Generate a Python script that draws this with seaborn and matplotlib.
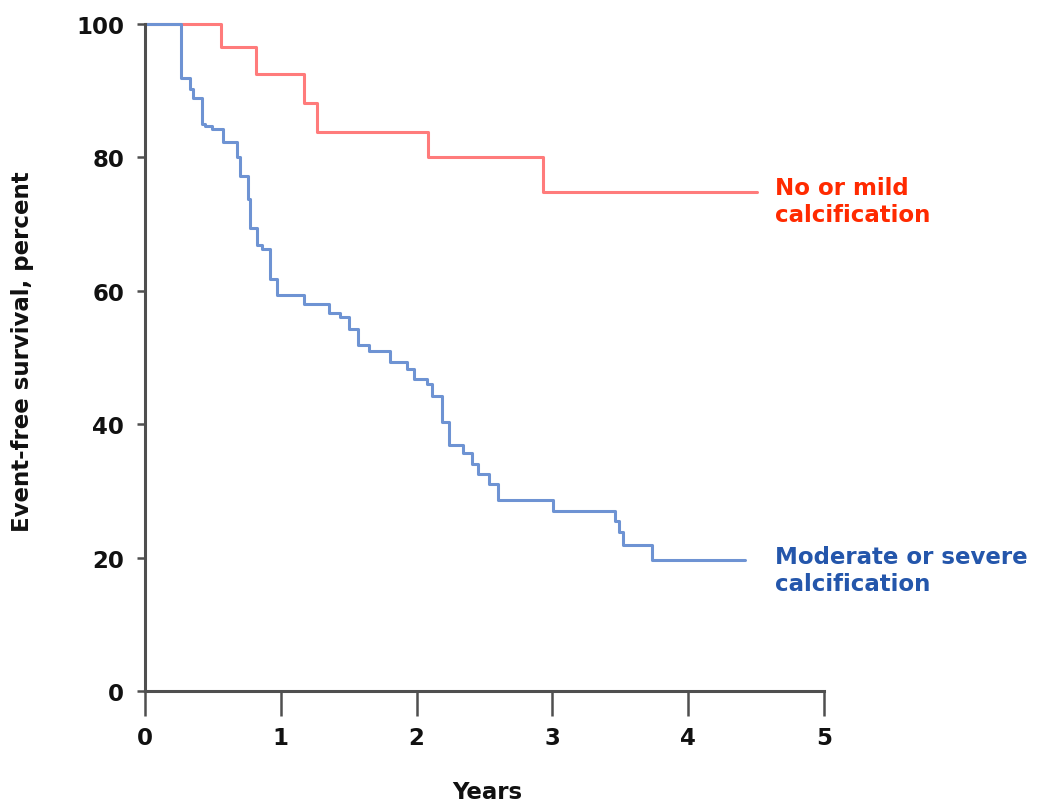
import pandas as pd
import matplotlib
matplotlib.use("Agg")
import matplotlib.pyplot as plt
import seaborn as sns

# Step points (time in years, survival after the step in %)
mild_years = [0, 0.56, 0.817, 1.171, 1.264, 2.087, 2.93, 4.51]
mild_surv = [100, 96.6, 92.5, 88.1, 83.8, 80.0, 74.8, 74.8]

severe_years = [0, 0.263, 0.331, 0.351, 0.422, 0.44, 0.491, 0.577, 0.675, 0.70,
                0.756, 0.773, 0.827, 0.859, 0.92, 0.97, 1.171, 1.357, 1.436, 1.505,
                1.571, 1.652, 1.804, 1.932, 1.981, 2.074, 2.111, 2.185, 2.239, 2.339,
                2.41, 2.455, 2.535, 2.60, 3.007, 3.46, 3.49, 3.52, 3.73, 4.418]
severe_surv = [100, 91.9, 90.2, 88.9, 85.0, 84.7, 84.2, 82.3, 80.0, 77.2,
               73.8, 69.4, 66.9, 66.2, 61.8, 59.4, 58.0, 56.7, 56.1, 54.2,
               51.9, 51.0, 49.3, 48.3, 46.8, 46.0, 44.2, 40.3, 36.9, 35.7,
               34.0, 32.5, 31.0, 28.6, 27.0, 25.5, 23.8, 21.9, 19.7, 19.7]

x_ticks = [0, 1, 2, 3, 4, 5]
y_ticks = [0, 20, 40, 60, 80, 100]

RED = "#ff7b7b"
BLUE = "#6e93d3"
RED_TXT = "#ff2a00"
BLUE_TXT = "#2456ab"
AXIS = "#4f4f4f"
FS = 16.5

sns.set_style("white")
plt.rcParams["font.family"] = ["DejaVu Sans"]
plt.rcParams["font.weight"] = "bold"

df = pd.concat([
    pd.DataFrame({"years": mild_years, "surv": mild_surv, "group": "mild"}),
    pd.DataFrame({"years": severe_years, "surv": severe_surv, "group": "severe"}),
])

fig = plt.figure(figsize=(10.47, 8.04), dpi=100)
ax = fig.add_axes([145 / 1047, 112 / 804, 679 / 1047, 667 / 804])

sns.lineplot(data=df, x="years", y="surv", hue="group", hue_order=["mild", "severe"],
             palette={"mild": RED, "severe": BLUE}, estimator=None, sort=False,
             drawstyle="steps-post", linewidth=2.2, legend=False, ax=ax, clip_on=False)

ax.set_xlim(0, 5)
ax.set_ylim(0, 100)
ax.set_xticks(x_ticks)
ax.set_yticks(y_ticks)
ax.tick_params(axis="x", direction="out", length=18, width=1.8, color=AXIS, pad=7,
               labelsize=FS, labelcolor="#111111", bottom=True)
ax.tick_params(axis="y", direction="out", length=6, width=1.8, color=AXIS, pad=9,
               labelsize=FS, labelcolor="#111111", left=True)
for lab in ax.get_xticklabels() + ax.get_yticklabels():
    lab.set_fontweight("bold")

for side in ["top", "right"]:
    ax.spines[side].set_visible(False)
for side in ["left", "bottom"]:
    ax.spines[side].set_color(AXIS)
    ax.spines[side].set_linewidth(2.2)

ax.set_xlabel("Years", fontsize=FS, fontweight="bold", color="#111111", va="center")
ax.set_ylabel("Event-free survival, percent", fontsize=FS, fontweight="bold",
              color="#111111", va="center")
ax.xaxis.set_label_coords(0.504, -0.15)
ax.yaxis.set_label_coords(-0.181, 0.51)

ax.text(4.64, 73.5, "No or mild\ncalcification", color=RED_TXT, fontsize=FS,
        fontweight="bold", ha="left", va="center", linespacing=1.2, clip_on=False)
ax.text(4.64, 18.1, "Moderate or severe\ncalcification", color=BLUE_TXT, fontsize=FS,
        fontweight="bold", ha="left", va="center", linespacing=1.2, clip_on=False)

fig.savefig("out.png", dpi=100, facecolor="white")
